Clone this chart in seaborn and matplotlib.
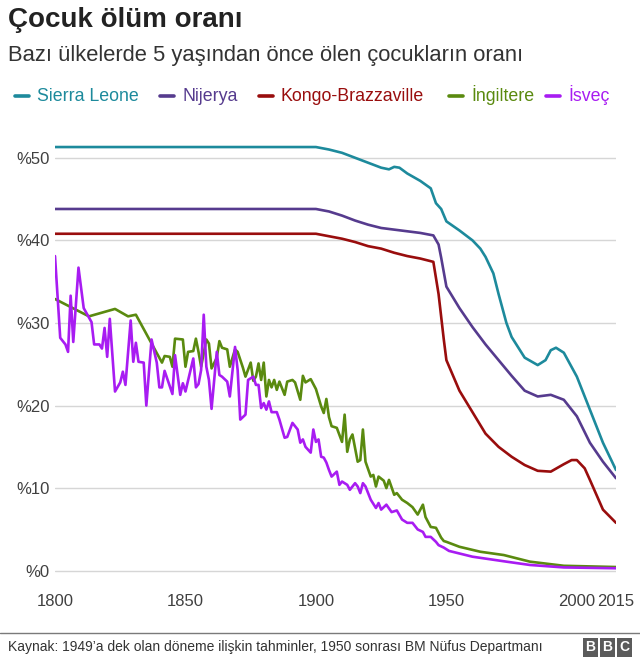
import pandas as pd
import seaborn as sns
import matplotlib.pyplot as plt
from matplotlib.lines import Line2D

# --- data (% of children dying before age 5) ---
countries = ["Sierra Leone", "Nijerya", "Kongo-Brazzaville", "İngiltere", "İsveç"]
colors = ["#1d8a9c", "#563b8e", "#990d0d", "#5a8a0f", "#a81cf2"]

sierra_years = [1800, 1900, 1905, 1910, 1915, 1920, 1925, 1928, 1930, 1932, 1935, 1940, 1944,
                1946, 1948, 1950, 1955, 1960, 1963, 1965, 1968, 1970, 1973, 1975, 1980, 1985,
                1988, 1990, 1992, 1995, 2000, 2005, 2010, 2015]
sierra_vals = [51.3, 51.3, 51.0, 50.6, 50.0, 49.4, 48.8, 48.6, 48.9, 48.8, 48.1, 47.2, 46.3,
               44.5, 43.8, 42.3, 41.2, 40.0, 39.0, 38.0, 36.0, 33.5, 30.0, 28.3, 25.8, 24.9,
               25.5, 26.7, 27.0, 26.4, 23.5, 19.5, 15.5, 12.2]

nigeria_years = [1800, 1900, 1905, 1910, 1915, 1920, 1925, 1930, 1935, 1940, 1945, 1947, 1948,
                 1950, 1955, 1960, 1965, 1970, 1975, 1980, 1985, 1990, 1995, 2000, 2005, 2010, 2015]
nigeria_vals = [43.8, 43.8, 43.5, 43.0, 42.4, 41.9, 41.5, 41.3, 41.1, 40.9, 40.6, 39.5, 37.9,
                34.4, 31.8, 29.5, 27.4, 25.5, 23.6, 21.8, 21.1, 21.3, 20.7, 18.7, 15.5, 13.2, 11.2]

congo_years = [1800, 1900, 1905, 1910, 1915, 1920, 1925, 1930, 1935, 1940, 1945, 1947, 1949,
               1950, 1955, 1960, 1965, 1970, 1975, 1980, 1985, 1990, 1995, 1998, 2000, 2003,
               2005, 2010, 2015]
congo_vals = [40.8, 40.8, 40.5, 40.2, 39.8, 39.3, 39.0, 38.5, 38.1, 37.8, 37.4, 33.5, 28.0,
              25.5, 21.8, 19.2, 16.6, 15.0, 13.8, 12.8, 12.1, 12.0, 12.9, 13.4, 13.4, 12.4,
              11.0, 7.4, 5.8]

england_years = [1800, 1813, 1823, 1828, 1831, 1841, 1842, 1844, 1845, 1846, 1849, 1850, 1851,
                 1853, 1854, 1855, 1856, 1858, 1859, 1860, 1862, 1863, 1864, 1866, 1867, 1869,
                 1870, 1872, 1873, 1875, 1876, 1877, 1878, 1879, 1880, 1881, 1882, 1883, 1884,
                 1885, 1886, 1888, 1889, 1891, 1892, 1894, 1895, 1896, 1898, 1900, 1902, 1903,
                 1904, 1905, 1906, 1908, 1910, 1911, 1912, 1913, 1914, 1916, 1917, 1918, 1919,
                 1921, 1922, 1923, 1924, 1926, 1927, 1928, 1930, 1931, 1933, 1935, 1937, 1939,
                 1941, 1942, 1944, 1946, 1948, 1949, 1950, 1955, 1963, 1972, 1982, 1995, 2015]
england_vals = [32.9, 30.8, 31.7, 30.8, 31.0, 25.2, 26.0, 25.9, 24.7, 28.1, 28.0, 24.7, 26.5,
                26.6, 28.1, 26.5, 24.7, 28.0, 27.5, 24.5, 25.8, 27.8, 27.0, 26.8, 24.7, 26.8,
                26.5, 24.6, 23.5, 25.2, 23.0, 23.5, 25.1, 23.1, 25.2, 21.1, 23.1, 22.2, 23.1,
                21.9, 22.9, 21.3, 22.9, 23.1, 22.8, 20.7, 23.6, 22.8, 23.2, 22.0, 19.9, 19.1,
                20.8, 18.6, 17.5, 17.3, 15.6, 18.9, 14.4, 15.9, 16.5, 13.2, 13.4, 17.1, 13.2,
                11.4, 11.6, 10.2, 11.4, 10.9, 10.0, 11.0, 9.2, 9.4, 8.6, 8.2, 7.7, 6.8,
                8.0, 6.5, 5.3, 5.2, 4.0, 3.6, 3.5, 2.9, 2.3, 1.9, 1.1, 0.6, 0.45]

sweden_years = [1800, 1802, 1804, 1805, 1806, 1807, 1809, 1811, 1814, 1815, 1817, 1818, 1819,
                1820, 1821, 1823, 1825, 1826, 1827, 1829, 1830, 1831, 1832, 1834, 1835, 1837,
                1839, 1840, 1841, 1842, 1845, 1846, 1848, 1849, 1850, 1853, 1854, 1855, 1856,
                1857, 1858, 1859, 1860, 1862, 1863, 1864, 1866, 1867, 1869, 1870, 1871, 1873,
                1874, 1876, 1877, 1878, 1879, 1880, 1881, 1882, 1883, 1885, 1886, 1888, 1889,
                1891, 1893, 1894, 1895, 1896, 1898, 1899, 1900, 1901, 1902, 1903, 1904, 1905,
                1906, 1908, 1909, 1910, 1912, 1913, 1915, 1916, 1917, 1918, 1919, 1921, 1923,
                1924, 1925, 1927, 1929, 1931, 1933, 1935, 1937, 1939, 1941, 1942, 1944, 1946,
                1947, 1949, 1951, 1960, 1973, 1982, 1995, 2015]
sweden_vals = [38.1, 28.2, 27.4, 26.5, 33.3, 27.7, 36.7, 31.8, 30.1, 27.4, 27.4, 26.9, 29.4,
               25.9, 30.5, 21.7, 22.8, 24.1, 22.5, 30.3, 25.3, 27.6, 25.3, 25.2, 20.0, 28.0,
               25.2, 22.2, 22.2, 24.2, 21.4, 26.1, 21.3, 22.7, 21.7, 25.7, 22.2, 22.6, 24.3,
               31.0, 24.7, 23.1, 19.6, 26.5, 23.7, 23.5, 22.9, 21.1, 27.1, 24.3, 18.3, 18.9,
               23.1, 23.5, 22.5, 22.5, 19.7, 20.3, 19.5, 20.5, 19.2, 19.2, 18.3, 16.1, 16.2,
               17.9, 17.1, 15.5, 15.9, 15.0, 14.3, 17.1, 15.6, 15.9, 13.8, 13.7, 13.1, 12.2,
               11.4, 12.0, 10.4, 10.8, 10.4, 9.8, 10.6, 10.2, 9.4, 10.6, 10.2, 8.6, 7.6,
               8.2, 7.4, 8.0, 7.1, 7.3, 6.2, 5.8, 5.8, 5.0, 4.7, 4.1, 4.1, 3.5,
               3.1, 2.8, 2.4, 1.7, 1.1, 0.7, 0.4, 0.3]

x_ticks = [1800, 1850, 1900, 1950, 2000, 2015]
y_ticks = [0, 10, 20, 30, 40, 50]
y_labels = ["%" + str(v) for v in y_ticks]

title = "Çocuk ölüm oranı"
subtitle = "Bazı ülkelerde 5 yaşından önce ölen çocukların oranı"
source = "Kaynak: 1949’a dek olan döneme ilişkin tahminler, 1950 sonrası BM Nüfus Departmanı"

# long form table for seaborn
series = [(sierra_years, sierra_vals), (nigeria_years, nigeria_vals), (congo_years, congo_vals),
          (england_years, england_vals), (sweden_years, sweden_vals)]
frames = []
for name, (yrs, vals) in zip(countries, series):
    frames.append(pd.DataFrame({"year": yrs, "rate": vals, "country": name}))
df = pd.concat(frames, ignore_index=True)

sns.set_style("white")
plt.rcParams["font.family"] = ["Liberation Sans", "DejaVu Sans"]

W, H = 640, 659
fig = plt.figure(figsize=(W / 100, H / 100), dpi=100)
ax = fig.add_axes([55 / W, 1 - 579 / H, 561 / W, 446 / H])

sns.lineplot(data=df, x="year", y="rate", hue="country", hue_order=countries,
             palette=colors, estimator=None, linewidth=1.9, ax=ax, legend=False, zorder=3)

ax.set_xlim(1800, 2015)
ax.set_ylim(-1, 53)
ax.set_xticks(x_ticks)
ax.set_yticks(y_ticks)
ax.set_yticklabels(y_labels)
ax.set_xlabel("")
ax.set_ylabel("")
ax.grid(axis="y", color="#d6d6d6", linewidth=1)
ax.grid(axis="x", visible=False)
for s in ax.spines.values():
    s.set_visible(False)
ax.tick_params(axis="both", length=0, labelsize=12, labelcolor="#404040")
ax.tick_params(axis="y", pad=4)
ax.tick_params(axis="x", pad=11)

# legend in the header, placed by hand (short dash + coloured name)
legend_x = [37, 182, 281, 471, 568]
legend_base = 1 - 101 / H
dash_y = 1 - 96 / H
for name, c, lx in zip(countries, colors, legend_x):
    fig.add_artist(Line2D([(lx - 22) / W, (lx - 8) / W], [dash_y, dash_y], color=c, linewidth=2.6))
    fig.text(lx / W, legend_base, name, fontsize=12.8, color=c, va="baseline")

fig.text(8 / W, 1 - 20 / H, title, fontsize=20, fontweight="bold", color="#222222", va="center")
fig.text(8 / W, 1 - 56 / H, subtitle, fontsize=15.8, color="#333333", va="center")

# footer
fig.add_artist(Line2D([0, 1], [1 - 633 / H, 1 - 633 / H], color="#7a7a7a", linewidth=1))
fig.text(8 / W, 1 - 647 / H, source, fontsize=10, color="#333333", va="center")
for i, letter in enumerate("BBC"):
    fig.text((590 + i * 17) / W, 1 - 647 / H, letter, fontsize=10, fontweight="bold",
             color="white", ha="center", va="center",
             bbox=dict(boxstyle="square,pad=0.18", facecolor="#5b5b5b", edgecolor="none"))

fig.savefig("out.png", dpi=100)
